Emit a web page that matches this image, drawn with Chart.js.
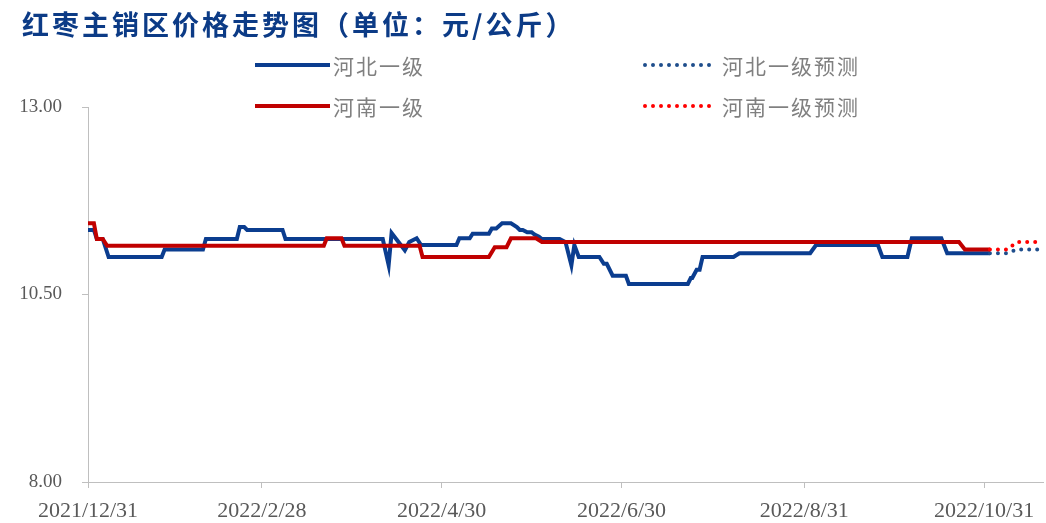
<!DOCTYPE html>
<html>
<head>
<meta charset="utf-8">
<script src="https://cdn.jsdelivr.net/npm/chart.js@4.4.1/dist/chart.umd.min.js"></script>
<style>
  html, body { margin: 0; padding: 0; background: #fff; }
  canvas { display: block; }
</style>
</head>
<body>
<canvas id="myChart" width="1046" height="523"></canvas>
<script>
// days counted from 2021/12/31
const xTickDays = [0, 59, 120, 181, 243, 304];
const xTickLabels = ["2021/12/31", "2022/2/28", "2022/4/30", "2022/6/30", "2022/8/31", "2022/10/31"];
const yTicks = [8, 10.5, 13];

const hebeiDays = [0, 2, 3, 5, 7, 25, 26, 39, 40, 50.5, 51.5, 53, 54, 66, 67, 100, 102, 103, 107.5, 109, 111.5, 113, 125, 126, 129.5, 130.5, 136, 137, 138.5, 140.5, 143.5, 145.5, 146.5, 147.5, 149, 150.5, 151.5, 153, 154, 160, 162, 164, 165, 166.5, 173.5, 175, 176, 178, 182.5, 183.5, 203.5, 204.5, 205, 206.5, 207.5, 208.5, 219, 221, 245, 247, 268, 269.5, 278, 279.5, 289.5, 291.5, 306];
const hebeiPrices = [11.36, 11.36, 11.24, 11.24, 11.0, 11.0, 11.1, 11.1, 11.24, 11.24, 11.4, 11.4, 11.36, 11.36, 11.24, 11.24, 10.89, 11.32, 11.09, 11.2, 11.25, 11.16, 11.16, 11.25, 11.25, 11.31, 11.31, 11.38, 11.38, 11.45, 11.45, 11.4, 11.36, 11.36, 11.33, 11.33, 11.3, 11.27, 11.24, 11.24, 11.2, 10.89, 11.16, 11.0, 11.0, 10.91, 10.91, 10.75, 10.75, 10.64, 10.64, 10.72, 10.72, 10.83, 10.83, 11.0, 11.0, 11.05, 11.05, 11.16, 11.16, 11.0, 11.0, 11.25, 11.25, 11.05, 11.05];

const henanDays = [0, 2, 3, 5, 6.5, 80, 81, 86, 87, 112.5, 113.5, 136, 138, 142, 143.5, 152, 154, 295.5, 297.5, 306];
const henanPrices = [11.45, 11.45, 11.24, 11.24, 11.15, 11.15, 11.25, 11.25, 11.15, 11.15, 11.0, 11.0, 11.13, 11.13, 11.25, 11.25, 11.2, 11.2, 11.1, 11.1];

const hebeiForecastDays = [306, 312, 315, 324];
const hebeiForecastPrices = [11.05, 11.05, 11.1, 11.1];
const henanForecastDays = [306, 312, 315, 324];
const henanForecastPrices = [11.1, 11.1, 11.2, 11.2];

const toPoints = (days, prices) => days.map((d, i) => ({ x: d, y: prices[i] }));

const titleText = "红枣主销区价格走势图（单位：元/公斤）";

// title + 2x2 legend drawn by hand
const headerPlugin = {
  id: "header",
  afterDraw: (chart) => {
    const c = chart.ctx;
    c.save();
    c.fillStyle = "#0c3b86";
    c.font = "bold 27px 'Noto Sans CJK SC'";
    c.textBaseline = "middle";
    c.textAlign = "left";
    c.letterSpacing = "3px";
    c.fillText(titleText, 22, 25);

    const spots = [
      { ds: 0, x: 255, y: 65 },
      { ds: 2, x: 255, y: 106 },
      { ds: 1, x: 643, y: 65 },
      { ds: 3, x: 643, y: 106 },
    ];
    c.font = "21px 'Noto Sans CJK SC'";
    c.letterSpacing = "2px";
    spots.forEach((s) => {
      const d = chart.data.datasets[s.ds];
      c.strokeStyle = d.borderColor;
      c.lineWidth = d.borderWidth;
      c.lineCap = d.borderDash ? "round" : "butt";
      c.setLineDash(d.borderDash || []);
      c.beginPath();
      if (d.borderDash) {
        c.moveTo(s.x + 2, s.y);
        c.lineTo(s.x + 68, s.y);
      } else {
        c.moveTo(s.x, s.y);
        c.lineTo(s.x + 75, s.y);
      }
      c.stroke();
      c.setLineDash([]);
      c.fillStyle = "#808080";
      c.fillText(d.label, d.borderDash ? s.x + 79 : s.x + 78, s.y + 1);
    });
    c.restore();
  },
};

const ctx = document.getElementById("myChart");

new Chart(ctx, {
  type: "line",
  data: {
    datasets: [
      {
        label: "河北一级",
        data: toPoints(hebeiDays, hebeiPrices),
        borderColor: "#0b3d8f",
        borderWidth: 4,
        order: 3,
      },
      {
        label: "河北一级预测",
        data: toPoints(hebeiForecastDays, hebeiForecastPrices),
        borderColor: "#1f4e8c",
        borderWidth: 4,
        borderDash: [0, 8],
        borderCapStyle: "round",
        order: 2,
      },
      {
        label: "河南一级",
        data: toPoints(henanDays, henanPrices),
        borderColor: "#c00000",
        borderWidth: 4,
        order: 1,
      },
      {
        label: "河南一级预测",
        data: toPoints(henanForecastDays, henanForecastPrices),
        borderColor: "#ff0000",
        borderWidth: 4,
        borderDash: [0, 8],
        borderCapStyle: "round",
        order: 0,
      },
    ],
  },
  options: {
    responsive: false,
    animation: false,
    elements: {
      point: { radius: 0, hoverRadius: 0 },
      line: { tension: 0 },
    },
    layout: {
      padding: { top: 107, right: 3, left: 0, bottom: 0 },
    },
    plugins: {
      legend: { display: false },
      title: { display: false },
      tooltip: { enabled: false },
    },
    scales: {
      x: {
        type: "linear",
        min: 0,
        max: 324,
        afterBuildTicks: (scale) => {
          scale.ticks = xTickDays.map((v) => ({ value: v }));
        },
        afterFit: (scale) => {
          scale.height = 41;
        },
        grid: {
          drawOnChartArea: false,
          drawTicks: true,
          tickLength: 6,
          color: "#bfbfbf",
        },
        border: { color: "#bfbfbf", width: 1 },
        ticks: {
          autoSkip: false,
          maxRotation: 0,
          padding: 10,
          color: "#595959",
          font: { family: "'Liberation Serif'", size: 22 },
          callback: (value) => xTickLabels[xTickDays.indexOf(value)],
        },
      },
      y: {
        min: 8,
        max: 13,
        afterBuildTicks: (scale) => {
          scale.ticks = yTicks.map((v) => ({ value: v }));
        },
        afterFit: (scale) => {
          scale.width = 88;
        },
        grid: {
          drawOnChartArea: false,
          drawTicks: true,
          tickLength: 6,
          color: "#bfbfbf",
        },
        border: { color: "#bfbfbf", width: 1 },
        ticks: {
          padding: 20,
          color: "#595959",
          font: { family: "'Liberation Serif'", size: 19 },
          callback: (value) => value.toFixed(2),
        },
      },
    },
  },
  plugins: [headerPlugin],
});
</script>
</body>
</html>
